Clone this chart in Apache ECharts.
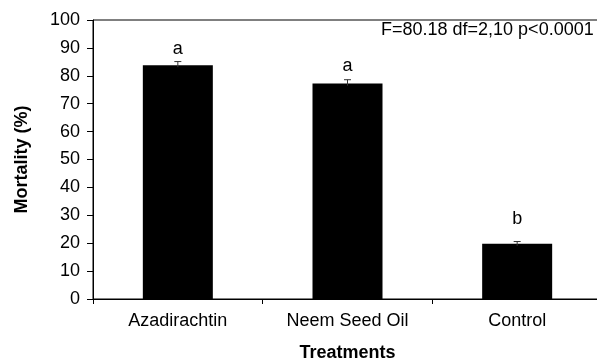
<!DOCTYPE html>
<html>
<head>
<meta charset="utf-8">
<script src="https://cdn.jsdelivr.net/npm/echarts@6/dist/echarts.min.js"></script>
<style>
html,body{margin:0;padding:0;background:#fff;}
#chart{width:597px;height:358px;}
</style>
</head>
<body>
<div id="chart"></div>
<script>
var categories = ['Azadirachtin', 'Neem Seed Oil', 'Control'];
var mortality = [83.8, 77.2, 19.8];
var errors = [1.3, 1.4, 0.8];
var letters = ['a', 'a', 'b'];
var letterY = [86.3, 80.3, 25.6];
var yTicks = [0, 10, 20, 30, 40, 50, 60, 70, 80, 90, 100];
var statText = 'F=80.18 df=2,10 p<0.0001';

var FONT = 'Liberation Sans, Arial, sans-serif';
var chart = echarts.init(document.getElementById('chart'));

chart.setOption({
  animation: false,
  backgroundColor: '#fff',
  title: {
    text: statText,
    left: 381,
    top: 21,
    padding: 0,
    textStyle: { fontFamily: FONT, fontSize: 18, fontWeight: 'normal', color: '#000' }
  },
  grid: {
    left: 93, top: 20, width: 509, height: 279,
    outerBoundsMode: 'none',
    containLabel: false,
    show: true, borderColor: '#000', borderWidth: 1, backgroundColor: 'transparent'
  },
  xAxis: {
    type: 'category',
    data: categories,
    boundaryGap: true,
    name: 'Treatments',
    nameLocation: 'middle',
    nameGap: 45,
    nameTextStyle: { fontFamily: FONT, fontSize: 18, fontWeight: 'bold', color: '#000' },
    axisLine: { lineStyle: { color: '#000', width: 1 } },
    axisTick: { show: true, length: 5, lineStyle: { color: '#000' } },
    axisLabel: { fontFamily: FONT, fontSize: 18, color: '#000', margin: 13 },
    splitLine: { show: false }
  },
  yAxis: {
    type: 'value',
    min: 0, max: 100, interval: 10,
    name: 'Mortality (%)',
    nameLocation: 'middle',
    nameGap: 62,
    nameTextStyle: { fontFamily: FONT, fontSize: 18, fontWeight: 'bold', color: '#000' },
    axisLine: { show: true, lineStyle: { color: '#000', width: 1 } },
    axisTick: { show: true, length: 6, lineStyle: { color: '#000' } },
    axisLabel: {
      fontFamily: FONT, fontSize: 18, color: '#000', margin: 13,
      formatter: function (v) { return yTicks.indexOf(v) >= 0 ? String(v) : ''; }
    },
    splitLine: { show: false }
  },
  series: [
    {
      type: 'bar',
      data: mortality,
      barWidth: 70,
      itemStyle: { color: '#000' }
    },
    {
      type: 'custom',
      z: 3,
      data: mortality.map(function (v, i) { return [i, v, errors[i]]; }),
      renderItem: function (params, api) {
        var i = api.value(0), v = api.value(1), e = api.value(2);
        var top = api.coord([i, v + e]);
        var base = api.coord([i, v]);
        var hw = 3.5;
        return {
          type: 'group',
          children: [
            { type: 'line', shape: { x1: top[0], y1: top[1], x2: base[0], y2: base[1] + 2 }, style: { stroke: '#333', lineWidth: 1 } },
            { type: 'line', shape: { x1: top[0] - hw, y1: top[1], x2: top[0] + hw, y2: top[1] }, style: { stroke: '#333', lineWidth: 1 } }
          ]
        };
      }
    },
    {
      type: 'custom',
      z: 4,
      data: letterY.map(function (v, i) { return [i, v]; }),
      renderItem: function (params, api) {
        var p = api.coord([api.value(0), api.value(1)]);
        return {
          type: 'text',
          x: p[0], y: p[1],
          style: {
            text: letters[params.dataIndex],
            fontFamily: FONT, fontSize: 18, fill: '#000',
            align: 'center', verticalAlign: 'bottom'
          }
        };
      }
    }
  ]
});
</script>
</body>
</html>
